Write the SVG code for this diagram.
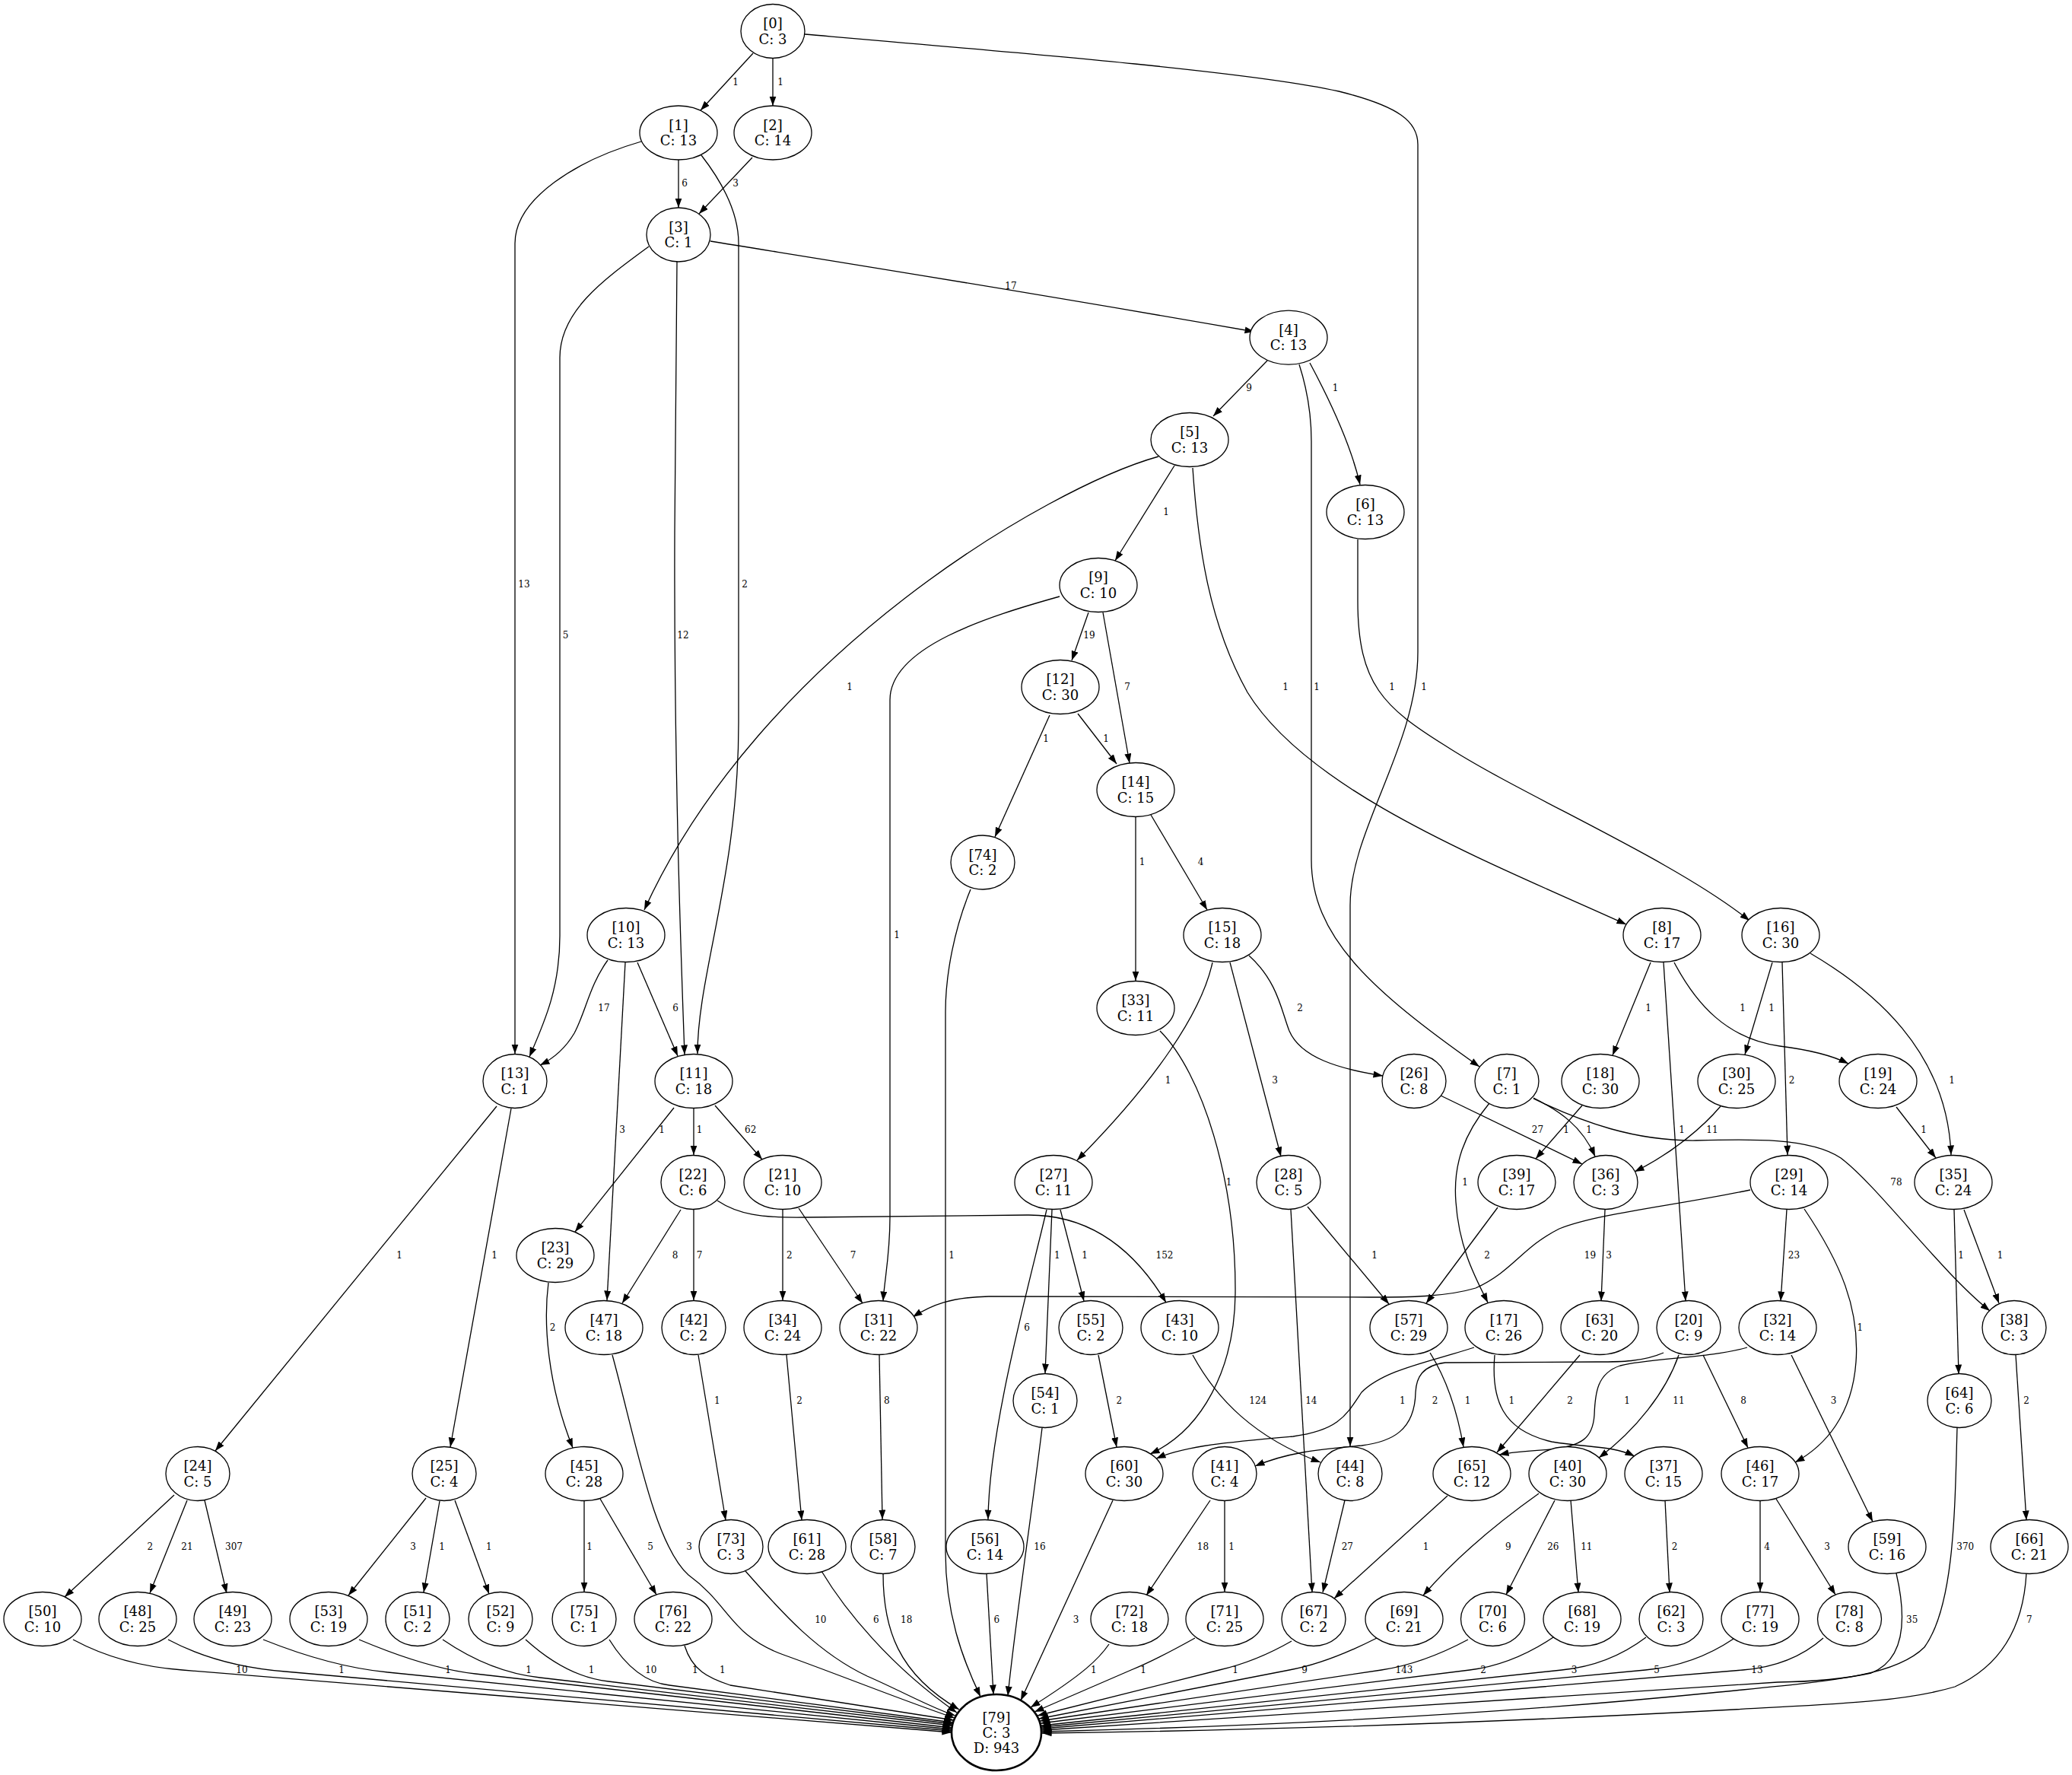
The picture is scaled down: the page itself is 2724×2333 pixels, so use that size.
<svg xmlns="http://www.w3.org/2000/svg" width="2724" height="2333" viewBox="0 0 2724 2333">
<style>
.node ellipse{fill:#fff;stroke:#000;stroke-width:1.3}
.node text{font-family:"DejaVu Serif",serif;font-size:18px;text-anchor:middle;fill:#000}
#connectors path{fill:none;stroke:#000;stroke-width:1.3;marker-end:url(#arr)}
#connectors text{font-family:"DejaVu Serif",serif;font-size:12px;text-anchor:middle;fill:#000}
#node79 ellipse{stroke-width:2.6}
</style>
<defs>
<marker id="arr" markerUnits="userSpaceOnUse" markerWidth="14" markerHeight="10" refX="12.5" refY="4.5" orient="auto"><path d="M0,0 L12.5,4.5 L0,9 z" fill="#000"/></marker>
</defs>
<rect width="2724" height="2333" fill="#fff"/>
<g id="connectors">
<g><path d="M990,70 L921,145"/><text x="967" y="112">1</text></g>
<g><path d="M1016,77 L1016,139"/><text x="1026" y="112">1</text></g>
<g><path d="M1058,45 C1350,70 1650,95 1760,120 C1840,140 1864,160 1864,190 L1864,857 C1864,980 1775,1090 1775,1190 L1775,1901"/><text x="1872" y="907">1</text></g>
<g><path d="M892,210 L892,273"/><text x="900" y="245">6</text></g>
<g><path d="M843,186 C760,210 677,260 677,320 L677,1385"/><text x="689" y="772">13</text></g>
<g><path d="M922,204 C950,240 971,280 971,320 L971,950 C971,1150 917,1280 917,1385"/><text x="979" y="772">2</text></g>
<g><path d="M989,207 L919,281"/><text x="967" y="245">3</text></g>
<g><path d="M934,317 C1050,336 1300,375 1649,436"/><text x="1329" y="380">17</text></g>
<g><path d="M853,324 C790,370 736,410 736,470 L736,1230 C736,1300 715,1345 696,1389"/><text x="743.5" y="839">5</text></g>
<g><path d="M890,344 L887,700 C886,1000 895,1250 900,1386"/><text x="898" y="839">12</text></g>
<g><path d="M1666,474 L1595,547"/><text x="1642" y="514">9</text></g>
<g><path d="M1722,477 C1745,520 1775,580 1788,637"/><text x="1755.5" y="514">1</text></g>
<g><path d="M1708,479 C1718,510 1724,540 1724,580 L1724,1130 C1724,1230 1800,1300 1945,1402"/><text x="1731" y="907">1</text></g>
<g><path d="M1544,612 L1466,737"/><text x="1533" y="677">1</text></g>
<g><path d="M1523,600 C1380,640 1000,860 847,1196"/><text x="1117" y="907">1</text></g>
<g><path d="M1568,615 C1575,720 1590,820 1640,910 C1720,1040 1950,1130 2138,1215"/><text x="1690" y="907">1</text></g>
<g><path d="M1785,709 L1785,790 C1785,900 1820,930 1900,980 C2000,1045 2200,1130 2300,1210"/><text x="1830" y="907">1</text></g>
<g><path d="M1431,805 L1409,868"/><text x="1432" y="839">19</text></g>
<g><path d="M1450,805 L1485,1003"/><text x="1482" y="907">7</text></g>
<g><path d="M1393,784 C1300,810 1170,850 1170,920 L1170,1600 C1170,1650 1163,1680 1161,1710"/><text x="1179" y="1233">1</text></g>
<g><path d="M1380,940 L1308,1100"/><text x="1375" y="975">1</text></g>
<g><path d="M1417,938 L1468,1004"/><text x="1454" y="975">1</text></g>
<g><path d="M1493,1074 L1493,1289"/><text x="1501.5" y="1137">1</text></g>
<g><path d="M1513,1071 L1587,1196"/><text x="1578.5" y="1137">4</text></g>
<g><path d="M1276,1169 C1255,1220 1243,1280 1243,1330 L1243,2040 C1243,2120 1265,2180 1289,2230"/><text x="1251" y="1654">1</text></g>
<g><path d="M799,1262 C775,1295 770,1330 755,1358 C745,1375 730,1390 710,1400"/><text x="794" y="1329">17</text></g>
<g><path d="M838,1265 L891,1388"/><text x="888" y="1329">6</text></g>
<g><path d="M822,1265 L798,1709"/><text x="818" y="1489">3</text></g>
<g><path d="M1594,1265 C1580,1330 1520,1420 1416,1525"/><text x="1535.6" y="1423.5">1</text></g>
<g><path d="M1617,1265 L1684,1520"/><text x="1676" y="1423.5">3</text></g>
<g><path d="M1642,1256 C1680,1290 1685,1330 1695,1355 C1710,1390 1760,1405 1818,1414"/><text x="1709" y="1329">2</text></g>
<g><path d="M2170,1265 L2120,1387"/><text x="2167" y="1329">1</text></g>
<g><path d="M2187,1265 L2216,1710"/><text x="2211" y="1489">1</text></g>
<g><path d="M2201,1265 C2230,1320 2270,1365 2340,1375 C2380,1380 2410,1388 2430,1398"/><text x="2291" y="1329">1</text></g>
<g><path d="M2330,1265 L2294,1386"/><text x="2329" y="1329">1</text></g>
<g><path d="M2343,1265 L2350,1518"/><text x="2355.6" y="1423.5">2</text></g>
<g><path d="M2380,1253 C2460,1300 2560,1380 2565,1518"/><text x="2566" y="1423.5">1</text></g>
<g><path d="M1525,1355 C1580,1410 1625,1550 1624,1700 C1623,1800 1580,1880 1512,1911"/><text x="1615.5" y="1558">1</text></g>
<g><path d="M653,1454 L283,1907"/><text x="525" y="1654">1</text></g>
<g><path d="M672,1457 L592,1902"/><text x="650" y="1654">1</text></g>
<g><path d="M886,1456 L756,1619"/><text x="870" y="1489">1</text></g>
<g><path d="M912,1457 L912,1518"/><text x="919.6" y="1489">1</text></g>
<g><path d="M940,1453 L1002,1524"/><text x="986.7" y="1489">62</text></g>
<g><path d="M1894,1440 L2080,1530"/><text x="2021.5" y="1489">27</text></g>
<g><path d="M2016,1443 C2050,1460 2080,1480 2097,1520"/><text x="2089" y="1489">1</text></g>
<g><path d="M1958,1450 C1925,1490 1910,1530 1914,1580 C1918,1640 1940,1680 1956,1712"/><text x="1926" y="1558">1</text></g>
<g><path d="M2016,1444 C2080,1475 2150,1500 2230,1499 C2300,1497 2380,1495 2420,1522 C2470,1560 2550,1670 2616,1723"/><text x="2493" y="1558">78</text></g>
<g><path d="M2080,1453 L2019,1523"/><text x="2059" y="1489">1</text></g>
<g><path d="M2262,1454 C2240,1480 2200,1515 2149,1540"/><text x="2251" y="1489">11</text></g>
<g><path d="M2493,1455 L2545,1522"/><text x="2529" y="1489">1</text></g>
<g><path d="M895,1590 L818,1713"/><text x="887.6" y="1654">8</text></g>
<g><path d="M912,1589 L912,1709"/><text x="919.6" y="1654">7</text></g>
<g><path d="M943,1578 C970,1596 1000,1601 1060,1600 L1350,1597 C1430,1596 1490,1640 1533,1712"/><text x="1531" y="1654">152</text></g>
<g><path d="M1029,1590 L1029,1709"/><text x="1037.7" y="1654">2</text></g>
<g><path d="M1050,1588 L1134,1713"/><text x="1121.6" y="1654">7</text></g>
<g><path d="M1376,1590 C1350,1700 1300,1880 1299,1997"/><text x="1350" y="1749">6</text></g>
<g><path d="M1383,1590 L1374,1805"/><text x="1389.7" y="1654">1</text></g>
<g><path d="M1394,1590 L1425,1710"/><text x="1426" y="1654">1</text></g>
<g><path d="M1697,1590 L1725,2093"/><text x="1723.8" y="1845">14</text></g>
<g><path d="M1719,1586 L1826,1714"/><text x="1807" y="1654">1</text></g>
<g><path d="M1969,1587 L1875,1713"/><text x="1955" y="1654">2</text></g>
<g><path d="M2110,1590 L2105,1710"/><text x="2115" y="1654">3</text></g>
<g><path d="M2301,1564 C2200,1585 2100,1595 2050,1615 C2000,1640 1990,1670 1940,1693 C1900,1705 1850,1705 1800,1705 L1300,1704 C1250,1705 1225,1715 1200,1731"/><text x="2090.5" y="1654">19</text></g>
<g><path d="M2349,1590 L2341,1710"/><text x="2358.5" y="1654">23</text></g>
<g><path d="M2372,1589 C2420,1660 2445,1720 2440,1790 C2435,1860 2400,1900 2360,1922"/><text x="2445.4" y="1749">1</text></g>
<g><path d="M2569,1590 L2575,1806"/><text x="2578" y="1654">1</text></g>
<g><path d="M2582,1590 L2628,1713"/><text x="2629.5" y="1654">1</text></g>
<g><path d="M721,1686 C714,1740 720,1820 753,1903"/><text x="726.6" y="1749">2</text></g>
<g><path d="M805,1781 C835,1890 860,2030 905,2070 C960,2110 960,2150 1030,2175 C1100,2200 1200,2240 1255,2258"/><text x="906" y="2037">3</text></g>
<g><path d="M918,1781 L954,1998"/><text x="942.7" y="1845">1</text></g>
<g><path d="M1034,1781 L1054,1998"/><text x="1051" y="1845">2</text></g>
<g><path d="M1156,1781 L1160,1997"/><text x="1165.7" y="1845">8</text></g>
<g><path d="M1444,1781 L1468,1902"/><text x="1471.4" y="1845">2</text></g>
<g><path d="M1568,1781 C1600,1840 1650,1890 1736,1922"/><text x="1653.8" y="1845">124</text></g>
<g><path d="M1880,1778 C1900,1810 1915,1850 1924,1902"/><text x="1929.5" y="1845">1</text></g>
<g><path d="M1938,1771 C1880,1790 1820,1800 1790,1830 C1770,1860 1760,1880 1700,1888 C1620,1895 1560,1900 1520,1917"/><text x="1843.8" y="1845">1</text></g>
<g><path d="M1965,1781 C1960,1840 1975,1880 2040,1895 C2090,1903 2120,1900 2149,1914"/><text x="1987.4" y="1845">1</text></g>
<g><path d="M2077,1781 L1968,1909"/><text x="2064" y="1845">2</text></g>
<g><path d="M2187,1778 C2160,1790 2130,1790 2100,1790 L1900,1791 C1870,1795 1862,1810 1861,1830 C1860,1880 1830,1895 1790,1900 C1730,1905 1690,1910 1650,1927"/><text x="1886.6" y="1845">2</text></g>
<g><path d="M2207,1781 C2190,1830 2150,1880 2102,1916"/><text x="2207" y="1845">11</text></g>
<g><path d="M2239,1781 L2298,1903"/><text x="2292" y="1845">8</text></g>
<g><path d="M2297,1771 C2250,1785 2170,1785 2130,1795 C2100,1805 2097,1830 2096,1860 C2094,1890 2080,1900 2040,1905 C2010,1907 1990,1908 1971,1912"/><text x="2139" y="1845">1</text></g>
<g><path d="M2355,1781 L2462,2000"/><text x="2410.6" y="1845">3</text></g>
<g><path d="M2650,1781 L2664,1998"/><text x="2664" y="1845">2</text></g>
<g><path d="M1370,1877 C1355,2000 1335,2130 1325,2229"/><text x="1367" y="2037">16</text></g>
<g><path d="M2573,1877 C2570,1980 2570,2110 2530,2165 C2490,2205 2400,2210 2250,2225 C2000,2250 1700,2268 1370,2276"/><text x="2583.8" y="2037">370</text></g>
<g><path d="M229,1965 L85,2099"/><text x="197.4" y="2037">2</text></g>
<g><path d="M246,1972 L197,2094"/><text x="246" y="2037">21</text></g>
<g><path d="M269,1972 L298,2094"/><text x="307.5" y="2037">307</text></g>
<g><path d="M560,1969 L458,2097"/><text x="543" y="2037">3</text></g>
<g><path d="M578,1973 L557,2093"/><text x="581" y="2037">1</text></g>
<g><path d="M598,1972 L643,2095"/><text x="642.7" y="2037">1</text></g>
<g><path d="M768,1973 L768,2092"/><text x="775" y="2037">1</text></g>
<g><path d="M789,1970 L863,2096"/><text x="855" y="2037">5</text></g>
<g><path d="M1463,1972 L1342,2235"/><text x="1414.6" y="2132.5">3</text></g>
<g><path d="M1591,1972 L1507,2097"/><text x="1581.4" y="2037">18</text></g>
<g><path d="M1610,1973 L1610,2092"/><text x="1619" y="2037">1</text></g>
<g><path d="M1768,1972 L1739,2093"/><text x="1771.3" y="2037">27</text></g>
<g><path d="M1903,1966 L1754,2101"/><text x="1874.5" y="2037">1</text></g>
<g><path d="M2023,1963 C1985,1990 1920,2040 1871,2097"/><text x="1982.8" y="2037">9</text></g>
<g><path d="M2044,1972 L1980,2096"/><text x="2041.8" y="2037">26</text></g>
<g><path d="M2065,1972 L2075,2093"/><text x="2085.8" y="2037">11</text></g>
<g><path d="M2189,1972 L2195,2093"/><text x="2201.6" y="2037">2</text></g>
<g><path d="M2314,1972 L2314,2092"/><text x="2323" y="2037">4</text></g>
<g><path d="M2335,1970 L2413,2096"/><text x="2402" y="2037">3</text></g>
<g><path d="M980,2065 C1020,2110 1070,2170 1140,2203 C1190,2225 1225,2245 1256,2255"/><text x="1078.8" y="2132.5">10</text></g>
<g><path d="M1080,2065 C1110,2115 1170,2190 1258,2251"/><text x="1151.8" y="2132.5">6</text></g>
<g><path d="M1161,2068 C1161,2140 1180,2200 1261,2247"/><text x="1191.7" y="2132.5">18</text></g>
<g><path d="M1297,2068 L1306,2227"/><text x="1310.4" y="2132.5">6</text></g>
<g><path d="M2493,2068 C2505,2120 2508,2180 2460,2199 Q2410,2210 2337,2211 L1370,2274"/><text x="2513.7" y="2132.5">35</text></g>
<g><path d="M2664,2068 C2660,2140 2630,2190 2570,2217 C2500,2238 2400,2240 2279,2247 C2000,2262 1700,2274 1370,2278"/><text x="2667.7" y="2132.5">7</text></g>
<g><path d="M96,2155 Q159,2189 240,2195 L1251,2277"/><text x="318" y="2199">10</text></g>
<g><path d="M221,2155 Q287,2190 375,2197 L1251,2275"/><text x="449" y="2199">1</text></g>
<g><path d="M346,2155 Q436,2191 510,2198 L1251,2273"/><text x="589" y="2199">1</text></g>
<g><path d="M472,2155 Q562,2193 625,2200 L1252,2271"/><text x="695" y="2199">1</text></g>
<g><path d="M582,2155 Q645,2198 710,2205 L1252,2268"/><text x="777.6" y="2199">1</text></g>
<g><path d="M691,2155 Q745,2204 800,2210 L1253,2266"/><text x="855.8" y="2199">10</text></g>
<g><path d="M801,2155 Q835,2210 880,2215 L1253,2264"/><text x="913.8" y="2199">1</text></g>
<g><path d="M900,2163 C910,2195 930,2205 960,2215 L1254,2261"/><text x="949.7" y="2199">1</text></g>
<g><path d="M1458,2161 C1445,2180 1425,2200 1355,2244"/><text x="1437.8" y="2199">1</text></g>
<g><path d="M1571,2153 Q1519,2182 1487,2195 L1360,2250"/><text x="1503" y="2199">1</text></g>
<g><path d="M1698,2157 Q1651,2184 1603,2195 L1364,2255"/><text x="1624" y="2199">1</text></g>
<g><path d="M1810,2153 Q1745,2186 1695,2195 L1366,2259"/><text x="1715" y="2199">9</text></g>
<g><path d="M1930,2155 Q1870,2187 1816,2195 L1367,2262"/><text x="1846" y="2199">143</text></g>
<g><path d="M2042,2152 Q1988,2188 1932,2195 L1368,2265"/><text x="1950" y="2199">2</text></g>
<g><path d="M2164,2152 Q2115,2189 2053,2195 L1369,2268"/><text x="2069.6" y="2199">3</text></g>
<g><path d="M2279,2154 Q2227,2189 2163,2195 L1369,2270"/><text x="2178" y="2199">5</text></g>
<g><path d="M2397,2153 Q2355,2190 2291,2195 L1370,2272"/><text x="2310" y="2199">13</text></g>
</g>
<g id="nodes">
<g id="node0" class="node"><ellipse cx="1016" cy="41" rx="42" ry="35.5"/><text x="1016" y="37">[0]<tspan x="1016" dy="20.5">C: 3</tspan></text></g>
<g id="node1" class="node"><ellipse cx="892" cy="174.5" rx="51" ry="35.5"/><text x="892" y="170.5">[1]<tspan x="892" dy="20.5">C: 13</tspan></text></g>
<g id="node2" class="node"><ellipse cx="1016" cy="174.5" rx="51" ry="35.5"/><text x="1016" y="170.5">[2]<tspan x="1016" dy="20.5">C: 14</tspan></text></g>
<g id="node3" class="node"><ellipse cx="892" cy="308.5" rx="42" ry="35.5"/><text x="892" y="304.5">[3]<tspan x="892" dy="20.5">C: 1</tspan></text></g>
<g id="node4" class="node"><ellipse cx="1694" cy="443.7" rx="51" ry="35.5"/><text x="1694" y="439.7">[4]<tspan x="1694" dy="20.5">C: 13</tspan></text></g>
<g id="node5" class="node"><ellipse cx="1564" cy="578" rx="51" ry="35.5"/><text x="1564" y="574">[5]<tspan x="1564" dy="20.5">C: 13</tspan></text></g>
<g id="node6" class="node"><ellipse cx="1795" cy="673" rx="51" ry="35.5"/><text x="1795" y="669">[6]<tspan x="1795" dy="20.5">C: 13</tspan></text></g>
<g id="node9" class="node"><ellipse cx="1444" cy="769" rx="51" ry="35.5"/><text x="1444" y="765">[9]<tspan x="1444" dy="20.5">C: 10</tspan></text></g>
<g id="node12" class="node"><ellipse cx="1394" cy="903" rx="51" ry="35.5"/><text x="1394" y="899">[12]<tspan x="1394" dy="20.5">C: 30</tspan></text></g>
<g id="node14" class="node"><ellipse cx="1493" cy="1038" rx="51" ry="35.5"/><text x="1493" y="1034">[14]<tspan x="1493" dy="20.5">C: 15</tspan></text></g>
<g id="node74" class="node"><ellipse cx="1292" cy="1133.5" rx="42" ry="35.5"/><text x="1292" y="1129.5">[74]<tspan x="1292" dy="20.5">C: 2</tspan></text></g>
<g id="node10" class="node"><ellipse cx="823" cy="1229" rx="51" ry="35.5"/><text x="823" y="1225">[10]<tspan x="823" dy="20.5">C: 13</tspan></text></g>
<g id="node15" class="node"><ellipse cx="1607" cy="1229" rx="51" ry="35.5"/><text x="1607" y="1225">[15]<tspan x="1607" dy="20.5">C: 18</tspan></text></g>
<g id="node8" class="node"><ellipse cx="2185" cy="1229" rx="51" ry="35.5"/><text x="2185" y="1225">[8]<tspan x="2185" dy="20.5">C: 17</tspan></text></g>
<g id="node16" class="node"><ellipse cx="2341" cy="1229" rx="51" ry="35.5"/><text x="2341" y="1225">[16]<tspan x="2341" dy="20.5">C: 30</tspan></text></g>
<g id="node33" class="node"><ellipse cx="1493" cy="1325" rx="51" ry="35.5"/><text x="1493" y="1321">[33]<tspan x="1493" dy="20.5">C: 11</tspan></text></g>
<g id="node13" class="node"><ellipse cx="677" cy="1421" rx="42" ry="35.5"/><text x="677" y="1417">[13]<tspan x="677" dy="20.5">C: 1</tspan></text></g>
<g id="node11" class="node"><ellipse cx="912" cy="1421" rx="51" ry="35.5"/><text x="912" y="1417">[11]<tspan x="912" dy="20.5">C: 18</tspan></text></g>
<g id="node26" class="node"><ellipse cx="1859" cy="1421" rx="42" ry="35.5"/><text x="1859" y="1417">[26]<tspan x="1859" dy="20.5">C: 8</tspan></text></g>
<g id="node7" class="node"><ellipse cx="1981" cy="1421" rx="42" ry="35.5"/><text x="1981" y="1417">[7]<tspan x="1981" dy="20.5">C: 1</tspan></text></g>
<g id="node18" class="node"><ellipse cx="2104" cy="1421" rx="51" ry="35.5"/><text x="2104" y="1417">[18]<tspan x="2104" dy="20.5">C: 30</tspan></text></g>
<g id="node30" class="node"><ellipse cx="2283" cy="1421" rx="51" ry="35.5"/><text x="2283" y="1417">[30]<tspan x="2283" dy="20.5">C: 25</tspan></text></g>
<g id="node19" class="node"><ellipse cx="2469" cy="1421" rx="51" ry="35.5"/><text x="2469" y="1417">[19]<tspan x="2469" dy="20.5">C: 24</tspan></text></g>
<g id="node22" class="node"><ellipse cx="911" cy="1554" rx="42" ry="35.5"/><text x="911" y="1550">[22]<tspan x="911" dy="20.5">C: 6</tspan></text></g>
<g id="node21" class="node"><ellipse cx="1029" cy="1554" rx="51" ry="35.5"/><text x="1029" y="1550">[21]<tspan x="1029" dy="20.5">C: 10</tspan></text></g>
<g id="node27" class="node"><ellipse cx="1385" cy="1554" rx="51" ry="35.5"/><text x="1385" y="1550">[27]<tspan x="1385" dy="20.5">C: 11</tspan></text></g>
<g id="node28" class="node"><ellipse cx="1694" cy="1554" rx="42" ry="35.5"/><text x="1694" y="1550">[28]<tspan x="1694" dy="20.5">C: 5</tspan></text></g>
<g id="node39" class="node"><ellipse cx="1994" cy="1554" rx="51" ry="35.5"/><text x="1994" y="1550">[39]<tspan x="1994" dy="20.5">C: 17</tspan></text></g>
<g id="node36" class="node"><ellipse cx="2111" cy="1554" rx="42" ry="35.5"/><text x="2111" y="1550">[36]<tspan x="2111" dy="20.5">C: 3</tspan></text></g>
<g id="node29" class="node"><ellipse cx="2352" cy="1554" rx="51" ry="35.5"/><text x="2352" y="1550">[29]<tspan x="2352" dy="20.5">C: 14</tspan></text></g>
<g id="node35" class="node"><ellipse cx="2568" cy="1554" rx="51" ry="35.5"/><text x="2568" y="1550">[35]<tspan x="2568" dy="20.5">C: 24</tspan></text></g>
<g id="node23" class="node"><ellipse cx="730" cy="1650" rx="51" ry="35.5"/><text x="730" y="1646">[23]<tspan x="730" dy="20.5">C: 29</tspan></text></g>
<g id="node47" class="node"><ellipse cx="794" cy="1745" rx="51" ry="35.5"/><text x="794" y="1741">[47]<tspan x="794" dy="20.5">C: 18</tspan></text></g>
<g id="node42" class="node"><ellipse cx="912" cy="1745" rx="42" ry="35.5"/><text x="912" y="1741">[42]<tspan x="912" dy="20.5">C: 2</tspan></text></g>
<g id="node34" class="node"><ellipse cx="1029" cy="1745" rx="51" ry="35.5"/><text x="1029" y="1741">[34]<tspan x="1029" dy="20.5">C: 24</tspan></text></g>
<g id="node31" class="node"><ellipse cx="1155" cy="1745" rx="51" ry="35.5"/><text x="1155" y="1741">[31]<tspan x="1155" dy="20.5">C: 22</tspan></text></g>
<g id="node55" class="node"><ellipse cx="1434" cy="1745" rx="42" ry="35.5"/><text x="1434" y="1741">[55]<tspan x="1434" dy="20.5">C: 2</tspan></text></g>
<g id="node43" class="node"><ellipse cx="1551" cy="1745" rx="51" ry="35.5"/><text x="1551" y="1741">[43]<tspan x="1551" dy="20.5">C: 10</tspan></text></g>
<g id="node57" class="node"><ellipse cx="1852" cy="1745" rx="51" ry="35.5"/><text x="1852" y="1741">[57]<tspan x="1852" dy="20.5">C: 29</tspan></text></g>
<g id="node17" class="node"><ellipse cx="1977" cy="1745" rx="51" ry="35.5"/><text x="1977" y="1741">[17]<tspan x="1977" dy="20.5">C: 26</tspan></text></g>
<g id="node63" class="node"><ellipse cx="2103" cy="1745" rx="51" ry="35.5"/><text x="2103" y="1741">[63]<tspan x="2103" dy="20.5">C: 20</tspan></text></g>
<g id="node20" class="node"><ellipse cx="2220" cy="1745" rx="42" ry="35.5"/><text x="2220" y="1741">[20]<tspan x="2220" dy="20.5">C: 9</tspan></text></g>
<g id="node32" class="node"><ellipse cx="2337" cy="1745" rx="51" ry="35.5"/><text x="2337" y="1741">[32]<tspan x="2337" dy="20.5">C: 14</tspan></text></g>
<g id="node38" class="node"><ellipse cx="2648" cy="1745" rx="42" ry="35.5"/><text x="2648" y="1741">[38]<tspan x="2648" dy="20.5">C: 3</tspan></text></g>
<g id="node54" class="node"><ellipse cx="1374" cy="1841" rx="42" ry="35.5"/><text x="1374" y="1837">[54]<tspan x="1374" dy="20.5">C: 1</tspan></text></g>
<g id="node64" class="node"><ellipse cx="2576" cy="1841" rx="42" ry="35.5"/><text x="2576" y="1837">[64]<tspan x="2576" dy="20.5">C: 6</tspan></text></g>
<g id="node24" class="node"><ellipse cx="260" cy="1937" rx="42" ry="35.5"/><text x="260" y="1933">[24]<tspan x="260" dy="20.5">C: 5</tspan></text></g>
<g id="node25" class="node"><ellipse cx="584" cy="1937" rx="42" ry="35.5"/><text x="584" y="1933">[25]<tspan x="584" dy="20.5">C: 4</tspan></text></g>
<g id="node45" class="node"><ellipse cx="768" cy="1937" rx="51" ry="35.5"/><text x="768" y="1933">[45]<tspan x="768" dy="20.5">C: 28</tspan></text></g>
<g id="node60" class="node"><ellipse cx="1478" cy="1937" rx="51" ry="35.5"/><text x="1478" y="1933">[60]<tspan x="1478" dy="20.5">C: 30</tspan></text></g>
<g id="node41" class="node"><ellipse cx="1610" cy="1937" rx="42" ry="35.5"/><text x="1610" y="1933">[41]<tspan x="1610" dy="20.5">C: 4</tspan></text></g>
<g id="node44" class="node"><ellipse cx="1775" cy="1937" rx="42" ry="35.5"/><text x="1775" y="1933">[44]<tspan x="1775" dy="20.5">C: 8</tspan></text></g>
<g id="node65" class="node"><ellipse cx="1935" cy="1937" rx="51" ry="35.5"/><text x="1935" y="1933">[65]<tspan x="1935" dy="20.5">C: 12</tspan></text></g>
<g id="node40" class="node"><ellipse cx="2061" cy="1937" rx="51" ry="35.5"/><text x="2061" y="1933">[40]<tspan x="2061" dy="20.5">C: 30</tspan></text></g>
<g id="node37" class="node"><ellipse cx="2187" cy="1937" rx="51" ry="35.5"/><text x="2187" y="1933">[37]<tspan x="2187" dy="20.5">C: 15</tspan></text></g>
<g id="node46" class="node"><ellipse cx="2314" cy="1937" rx="51" ry="35.5"/><text x="2314" y="1933">[46]<tspan x="2314" dy="20.5">C: 17</tspan></text></g>
<g id="node73" class="node"><ellipse cx="961" cy="2033" rx="42" ry="35.5"/><text x="961" y="2029">[73]<tspan x="961" dy="20.5">C: 3</tspan></text></g>
<g id="node61" class="node"><ellipse cx="1061" cy="2033" rx="51" ry="35.5"/><text x="1061" y="2029">[61]<tspan x="1061" dy="20.5">C: 28</tspan></text></g>
<g id="node58" class="node"><ellipse cx="1161" cy="2033" rx="42" ry="35.5"/><text x="1161" y="2029">[58]<tspan x="1161" dy="20.5">C: 7</tspan></text></g>
<g id="node56" class="node"><ellipse cx="1295" cy="2033" rx="51" ry="35.5"/><text x="1295" y="2029">[56]<tspan x="1295" dy="20.5">C: 14</tspan></text></g>
<g id="node59" class="node"><ellipse cx="2481" cy="2033" rx="51" ry="35.5"/><text x="2481" y="2029">[59]<tspan x="2481" dy="20.5">C: 16</tspan></text></g>
<g id="node66" class="node"><ellipse cx="2668" cy="2033" rx="51" ry="35.5"/><text x="2668" y="2029">[66]<tspan x="2668" dy="20.5">C: 21</tspan></text></g>
<g id="node50" class="node"><ellipse cx="56" cy="2128" rx="51" ry="35.5"/><text x="56" y="2124">[50]<tspan x="56" dy="20.5">C: 10</tspan></text></g>
<g id="node48" class="node"><ellipse cx="181" cy="2128" rx="51" ry="35.5"/><text x="181" y="2124">[48]<tspan x="181" dy="20.5">C: 25</tspan></text></g>
<g id="node49" class="node"><ellipse cx="306" cy="2128" rx="51" ry="35.5"/><text x="306" y="2124">[49]<tspan x="306" dy="20.5">C: 23</tspan></text></g>
<g id="node53" class="node"><ellipse cx="432" cy="2128" rx="51" ry="35.5"/><text x="432" y="2124">[53]<tspan x="432" dy="20.5">C: 19</tspan></text></g>
<g id="node51" class="node"><ellipse cx="549" cy="2128" rx="42" ry="35.5"/><text x="549" y="2124">[51]<tspan x="549" dy="20.5">C: 2</tspan></text></g>
<g id="node52" class="node"><ellipse cx="658" cy="2128" rx="42" ry="35.5"/><text x="658" y="2124">[52]<tspan x="658" dy="20.5">C: 9</tspan></text></g>
<g id="node75" class="node"><ellipse cx="768" cy="2128" rx="42" ry="35.5"/><text x="768" y="2124">[75]<tspan x="768" dy="20.5">C: 1</tspan></text></g>
<g id="node76" class="node"><ellipse cx="885" cy="2128" rx="51" ry="35.5"/><text x="885" y="2124">[76]<tspan x="885" dy="20.5">C: 22</tspan></text></g>
<g id="node72" class="node"><ellipse cx="1485" cy="2128" rx="51" ry="35.5"/><text x="1485" y="2124">[72]<tspan x="1485" dy="20.5">C: 18</tspan></text></g>
<g id="node71" class="node"><ellipse cx="1610" cy="2128" rx="51" ry="35.5"/><text x="1610" y="2124">[71]<tspan x="1610" dy="20.5">C: 25</tspan></text></g>
<g id="node67" class="node"><ellipse cx="1727" cy="2128" rx="42" ry="35.5"/><text x="1727" y="2124">[67]<tspan x="1727" dy="20.5">C: 2</tspan></text></g>
<g id="node69" class="node"><ellipse cx="1846" cy="2128" rx="51" ry="35.5"/><text x="1846" y="2124">[69]<tspan x="1846" dy="20.5">C: 21</tspan></text></g>
<g id="node70" class="node"><ellipse cx="1962.5" cy="2128" rx="42" ry="35.5"/><text x="1962.5" y="2124">[70]<tspan x="1962.5" dy="20.5">C: 6</tspan></text></g>
<g id="node68" class="node"><ellipse cx="2080" cy="2128" rx="51" ry="35.5"/><text x="2080" y="2124">[68]<tspan x="2080" dy="20.5">C: 19</tspan></text></g>
<g id="node62" class="node"><ellipse cx="2197" cy="2128" rx="42" ry="35.5"/><text x="2197" y="2124">[62]<tspan x="2197" dy="20.5">C: 3</tspan></text></g>
<g id="node77" class="node"><ellipse cx="2314" cy="2128" rx="51" ry="35.5"/><text x="2314" y="2124">[77]<tspan x="2314" dy="20.5">C: 19</tspan></text></g>
<g id="node78" class="node"><ellipse cx="2431.5" cy="2128" rx="42" ry="35.5"/><text x="2431.5" y="2124">[78]<tspan x="2431.5" dy="20.5">C: 8</tspan></text></g>
<g id="node79" class="node"><ellipse cx="1310" cy="2277" rx="59" ry="50"/><text x="1310" y="2263.5">[79]<tspan x="1310" dy="20">C: 3</tspan><tspan x="1310" dy="20">D: 943</tspan></text></g>
</g>
</svg>
